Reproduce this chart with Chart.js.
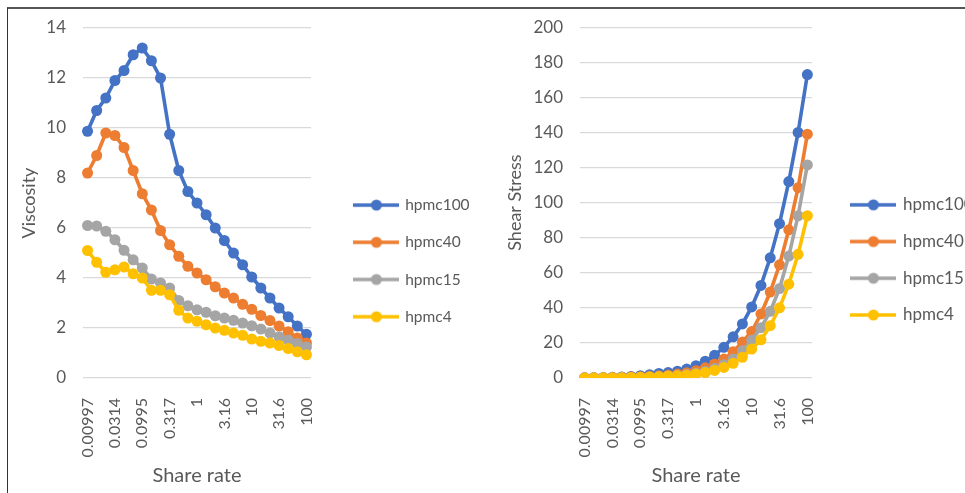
<!DOCTYPE html>
<html>
<head>
<meta charset="utf-8">
<script src="https://cdn.jsdelivr.net/npm/chart.js@4/dist/chart.umd.min.js"></script>
<style>
  body { margin: 0; background: #fff; }
  #wrap { position: relative; width: 965px; height: 493px; overflow: hidden; background: #fff; }
  #frame { position: absolute; left: 7px; top: 7px; right: -2px; bottom: -2px; border-left: 1px solid #333; border-top: 2px solid #555; }
  canvas { position: absolute; top: 0; }
  #viscChart { left: 0; }
  #stressChart { left: 480px; }
</style>
</head>
<body>
<div id="wrap">
  <div id="frame"></div>
  <canvas id="viscChart" width="480" height="493"></canvas>
  <canvas id="stressChart" width="485" height="493"></canvas>
</div>
<script>
// shear rates (category axis), every third one is labelled
const shareRates = ['0.00997', '0.0147', '0.0215', '0.0314', '0.0464', '0.0681', '0.0995', '0.147', '0.215',
  '0.317', '0.464', '0.681', '1', '1.47', '2.15', '3.16', '4.64', '6.81', '10', '14.7', '21.5', '31.6',
  '46.4', '68.1', '100'];
const seriesNames = ['hpmc100', 'hpmc40', 'hpmc15', 'hpmc4'];

// viscosity values
const viscHpmc100 = [9.87, 10.7, 11.2, 11.9, 12.3, 12.93, 13.2, 12.69, 12.0, 9.75, 8.3, 7.46, 7.0, 6.53, 6.0, 5.5, 5.0, 4.53, 4.04, 3.6, 3.2, 2.8, 2.45, 2.08, 1.75];
const viscHpmc40 = [8.2, 8.9, 9.8, 9.7, 9.22, 8.3, 7.37, 6.72, 5.9, 5.33, 4.87, 4.47, 4.2, 3.93, 3.65, 3.4, 3.2, 2.95, 2.75, 2.5, 2.3, 2.08, 1.85, 1.6, 1.4];
const viscHpmc15 = [6.1, 6.08, 5.87, 5.53, 5.11, 4.73, 4.4, 3.96, 3.8, 3.6, 3.1, 2.89, 2.73, 2.63, 2.49, 2.4, 2.31, 2.2, 2.09, 1.96, 1.8, 1.65, 1.52, 1.38, 1.24];
const viscHpmc4 = [5.1, 4.63, 4.23, 4.33, 4.44, 4.17, 4.0, 3.51, 3.51, 3.33, 2.71, 2.4, 2.27, 2.13, 2.0, 1.91, 1.8, 1.71, 1.56, 1.47, 1.4, 1.3, 1.18, 1.05, 0.93];

// shear stress values
const stressHpmc100 = [0.1, 0.16, 0.24, 0.37, 0.57, 0.88, 1.3, 1.9, 2.6, 3.1, 3.9, 5.1, 7.0, 9.6, 12.9, 17.5, 23.5, 30.8, 40.5, 52.8, 68.5, 88, 112, 140, 173];
const stressHpmc40 = [0.08, 0.13, 0.21, 0.3, 0.43, 0.57, 0.73, 0.99, 1.27, 1.69, 2.26, 3.04, 4.2, 5.8, 7.9, 10.8, 15, 20.5, 26.5, 36.5, 49, 64.5, 84.5, 108.5, 139];
const stressHpmc15 = [0.06, 0.09, 0.13, 0.17, 0.24, 0.32, 0.44, 0.58, 0.82, 1.14, 1.44, 1.97, 2.73, 3.87, 5.35, 7.6, 10.8, 15.5, 21.5, 28.7, 38, 51, 69.5, 92.5, 121.5];
const stressHpmc4 = [0.05, 0.07, 0.09, 0.14, 0.21, 0.28, 0.4, 0.52, 0.75, 1.06, 1.26, 1.63, 2.27, 3.13, 4.3, 6.0, 8.4, 11.8, 16.5, 21.8, 29.8, 40, 53.5, 70.5, 92.5];

const colors = ['#4472C4', '#ED7D31', '#A5A5A5', '#FFC000'];
const textColor = '#595959';
const gridColor = '#d9d9d9';

Chart.defaults.font.family = 'Lato, "Liberation Sans", sans-serif';
Chart.defaults.color = textColor;

// excel style legend symbol: line with a dot in the middle
function makeIcon(color) {
  const c = document.createElement('canvas');
  c.width = 46; c.height = 14;
  const g = c.getContext('2d');
  g.strokeStyle = color; g.lineWidth = 3.5;
  g.beginPath(); g.moveTo(0, 7); g.lineTo(46, 7); g.stroke();
  g.fillStyle = color;
  g.beginPath(); g.arc(23, 7, 5.5, 0, Math.PI * 2); g.fill();
  return c;
}
const icons = colors.map(makeIcon);

// put legend where it sits in the picture
const legendMove = {
  id: 'legendMove',
  afterLayout(chart, args, opts) {
    const l = chart.legend;
    const w = l.width;
    l.left = opts.x; l.right = opts.x + w;
    l.top = opts.top; l.bottom = chart.height;
  }
};

function makeDatasets(series) {
  return series.map((data, i) => ({
    label: seriesNames[i],
    data: data,
    borderColor: colors[i],
    backgroundColor: colors[i],
    borderWidth: 3.6,
    pointRadius: 5.5,
    pointHoverRadius: 5.5,
    pointBorderWidth: 0,
    order: series.length - i
  }));
}

function createLineChart(canvasId, series, yTitle, yMax, yStep, o) {
  const ctx = document.getElementById(canvasId).getContext('2d');
  return new Chart(ctx, {
    type: 'line',
    data: { labels: shareRates, datasets: makeDatasets(series) },
    options: {
      responsive: false,
      animation: false,
      layout: { padding: { left: o.padLeft, top: o.padTop, right: o.padRight, bottom: 0 } },
      plugins: {
        legend: {
          position: 'chartArea',
          labels: {
            usePointStyle: true,
            pointStyleWidth: 42,
            padding: o.legendPad,
            color: textColor,
            font: { size: o.legendSize },
            sort: (a, b) => a.datasetIndex - b.datasetIndex,
            generateLabels: chart => Chart.defaults.plugins.legend.labels.generateLabels(chart)
              .map(item => Object.assign(item, { pointStyle: icons[item.datasetIndex] }))
          }
        },
        legendMove: { x: o.legendX, top: o.legendTop },
        tooltip: { enabled: false }
      },
      scales: {
        x: {
          offset: true,
          grid: { display: false },
          border: { display: false },
          ticks: {
            autoSkip: false, minRotation: 90, maxRotation: 90, padding: 12,
            font: { size: 16 }, color: textColor,
            callback: (v, i) => (i % 3 === 0 ? shareRates[i] : '')
          },
          title: { display: true, text: 'Share rate', color: textColor, font: { size: 20 }, padding: { top: 4, bottom: 5 } },
          afterFit: s => { s.height = 493 - 378; }
        },
        y: {
          min: 0, max: yMax,
          grid: { color: gridColor, lineWidth: 1.2, drawTicks: false },
          border: { display: false },
          ticks: { stepSize: yStep, padding: 17, font: { size: 17 }, color: textColor },
          title: { display: true, text: yTitle, color: textColor, font: { size: 18 }, padding: { top: 4, bottom: 4 } },
          afterFit: s => { s.width = o.yWidth; }
        }
      }
    },
    plugins: [legendMove]
  });
}

createLineChart('viscChart', [viscHpmc100, viscHpmc40, viscHpmc15, viscHpmc4], 'Viscosity', 14, 2,
  { padLeft: 14, padTop: 28, padRight: 169, yWidth: 69, legendX: 333.7, legendTop: 28.8, legendPad: 21.7, legendSize: 15.5 });

createLineChart('stressChart', [stressHpmc100, stressHpmc40, stressHpmc15, stressHpmc4], 'Shear Stress', 200, 20,
  { padLeft: 20, padTop: 25, padRight: 153, yWidth: 80, legendX: 352.7, legendTop: 26.8, legendPad: 19.7, legendSize: 17 });
</script>
</body>
</html>
